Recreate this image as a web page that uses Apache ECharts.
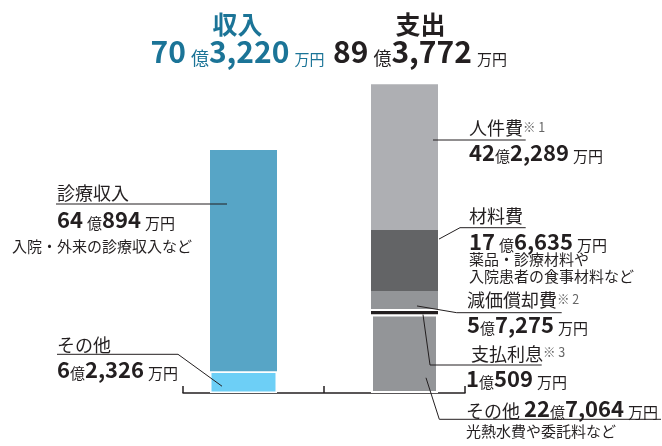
<!DOCTYPE html>
<html><head><meta charset="utf-8">
<script src="https://cdn.jsdelivr.net/npm/echarts@6/dist/echarts.min.js"></script>
<style>html,body{margin:0;padding:0;background:#fff}#c{width:662px;height:446px}</style>
</head><body><div id="c"></div>
<script>
// values in 万円
const categories = ['収入', '支出'];
const incomeNames = ['その他', '診療収入'];
const incomeValues = [62326, 640894];
const expenseNames = ['その他', '支払利息', '減価償却費', '材料費', '人件費'];
const expenseValues = [227064, 10509, 57275, 176635, 422289];

const FF = "'Noto Sans CJK JP', 'Noto Sans', sans-serif";
const DARK = '#231f20';
const TEAL = '#1b7497';

const incomeStyles = [
  {color: '#6dcff6', borderColor: '#fff', borderWidth: 1.5},
  {color: '#57a5c6'}
];
const incomeZ = [3, 2];
const expenseStyles = [
  {color: '#939598', borderColor: '#fff', borderWidth: 2},
  {color: DARK, borderColor: DARK, borderWidth: 3, shadowColor: '#fff', shadowOffsetY: -2, shadowBlur: 0},
  {color: '#939598'},
  {color: '#636466'},
  {color: '#aeafb3'}
];
const expenseZ = [4, 3, 2, 2, 2];

const series = [];
incomeNames.forEach((n, i) => series.push({
  name: n, type: 'bar', stack: 'in', barWidth: 67, barGap: '-70.15%',
  data: [incomeValues[i] / 1e4, null], itemStyle: incomeStyles[i], z: incomeZ[i],
  silent: true, emphasis: {disabled: true}
}));
expenseNames.forEach((n, i) => series.push({
  name: n, type: 'bar', stack: 'out', barWidth: 67, barGap: '-70.15%',
  data: [null, expenseValues[i] / 1e4], itemStyle: expenseStyles[i], z: expenseZ[i],
  silent: true, emphasis: {disabled: true}
}));

const chart = echarts.init(document.getElementById('c'), null, {renderer: 'canvas'});
chart.setOption({
  animation: false,
  backgroundColor: '#fff',
  grid: {left: 183, right: 197, top: 82, bottom: 53},
  xAxis: {
    type: 'category', data: categories, boundaryGap: true, offset: 2,
    axisLine: {lineStyle: {color: DARK, width: 1.5}},
    axisTick: {show: true, inside: true, length: 7, lineStyle: {color: DARK, width: 1.5}},
    axisLabel: {show: false}
  },
  yAxis: {type: 'value', min: 0, max: 90, show: false},
  series: series
});

function rect(si, di) {
  const l = chart.getModel().getSeriesByIndex(si).getData().getItemLayout(di);
  const top = Math.min(l.y, l.y + l.height), bottom = Math.max(l.y, l.y + l.height);
  return {left: l.x, right: l.x + l.width, top, bottom, cx: l.x + l.width / 2, cy: (top + bottom) / 2, h: bottom - top};
}
function money(v, sp) {
  const oku = Math.floor(v / 1e4);
  const man = (v % 1e4).toLocaleString('en-US');
  return '{n|' + oku + '}' + (sp ? ' ' : '') + '{o|億}{n|' + man + '} {u|万円}';
}
function richSet(nSize, oSize, uSize, color, weight) {
  return {
    n: {fontSize: nSize, fontFamily: FF, fontWeight: weight, fill: color, verticalAlign: 'bottom'},
    o: {fontSize: oSize, fontFamily: FF, fontWeight: 'normal', fill: color, verticalAlign: 'bottom'},
    u: {fontSize: uSize, fontFamily: FF, fontWeight: 'normal', fill: color, verticalAlign: 'bottom'}
  };
}
function txt(x, y, text, size, opts) {
  opts = opts || {};
  return {
    type: 'text', x: x, y: y, silent: true, z: 10,
    style: Object.assign({
      text: text, fontSize: size, fontFamily: FF, fontWeight: opts.weight || 'normal',
      fill: opts.color || DARK, align: opts.align || 'left', verticalAlign: 'middle'
    }, opts.rich ? {rich: opts.rich} : {})
  };
}
function line(points) {
  return {type: 'polyline', silent: true, z: 9, shape: {points: points},
    style: {stroke: DARK, lineWidth: 1, fill: null}};
}

const incTotal = incomeValues.reduce((a, b) => a + b, 0);
const expTotal = expenseValues.reduce((a, b) => a + b, 0);

const r0 = rect(0, 0), r1 = rect(1, 0);
const r2 = rect(2, 1), r3 = rect(3, 1), r4 = rect(4, 1), r5 = rect(5, 1), r6 = rect(6, 1);

const bigRich = c => richSet(30, 18, 15, c, 'bold');
const midRich = richSet(22, 15, 15, DARK, 'bold');
const labRich = {
  a: {fontSize: 18, fontFamily: FF, fill: DARK, verticalAlign: 'bottom'},
  s: {fontSize: 12.5, fontFamily: FF, fill: '#666', verticalAlign: 'top', padding: [1, 0, 0, 0]}
};
const mixRich = Object.assign({}, midRich, {a: {fontSize: 18, fontFamily: FF, fill: DARK, verticalAlign: 'bottom'}});

const g = [
  txt((r1.left + r1.right) / 2 - 6, 24, categories[0], 25, {weight: 'bold', color: TEAL, align: 'center'}),
  txt((r6.left + r6.right) / 2 + 16, 24, categories[1], 25, {weight: 'bold', color: DARK, align: 'center'}),
  txt(237.5, 52, money(incTotal, true), 22, {align: 'center', rich: bigRich(TEAL)}),
  txt(420, 52, money(expTotal, true), 22, {align: 'center', rich: bigRich(DARK)}),

  txt(57, 193.5, incomeNames[1], 18),
  txt(57, 220, money(incomeValues[1], true), 18, {rich: midRich}),
  txt(12, 246.5, '入院・外来の診療収入など', 15),
  txt(57, 345, incomeNames[0], 18),
  txt(57, 370, money(incomeValues[0], false), 18, {rich: midRich}),

  txt(469, 128.5, '{a|' + expenseNames[4] + '}{s|※ 1}', 18, {rich: labRich}),
  txt(469, 152.5, money(expenseValues[4], false), 18, {rich: midRich}),
  txt(469, 216.5, expenseNames[3], 18),
  txt(469, 241.5, money(expenseValues[3], true), 18, {rich: midRich}),
  txt(469, 259, '薬品・診療材料や', 15),
  txt(469, 276, '入院患者の食事材料など', 15),
  txt(467, 300.5, '{a|' + expenseNames[2] + '}{s|※ 2}', 18, {rich: labRich}),
  txt(467, 325, money(expenseValues[2], false), 18, {rich: midRich}),
  txt(471, 354, '{a|' + expenseNames[1] + '}{s|※ 3}', 18, {rich: labRich}),
  txt(466, 378.5, money(expenseValues[1], false), 18, {rich: midRich}),
  txt(466, 409, '{a|' + expenseNames[0] + '} ' + money(expenseValues[0], false), 18, {rich: mixRich}),
  txt(466, 431, '光熱水費や委託料など', 15),

  line([[56, 204], [r1.left + 17, 204]]),
  line([[57, 354.3], [178, 354.3], [r0.left + 12, r0.cy + 4]]),
  line([[r6.right - 5, 140], [525.7, 140]]),
  line([[r5.right + 1, r5.top + 9], [460, 227.7], [525.7, 227.7]]),
  line([[r4.left + 46, r4.top + 0.75 * r4.h], [456.7, 312.7], [561.7, 312.7]]),
  line([[r3.left + 52, r3.bottom], [430, 365], [541.7, 365]]),
  line([[r2.left + 55, r2.cy + 24], [439.3, 419.3], [661, 419.3]])
];
chart.setOption({graphic: g});
</script></body></html>
